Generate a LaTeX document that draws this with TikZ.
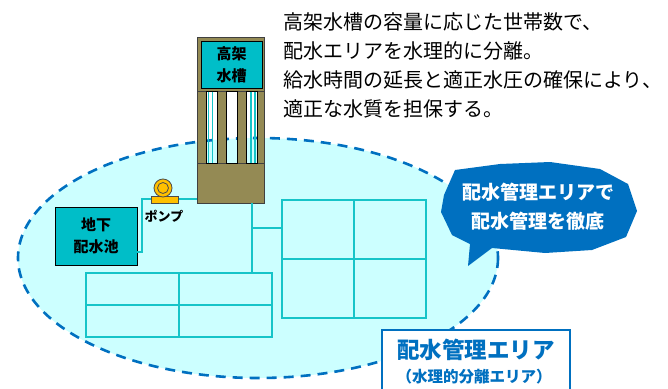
\documentclass[tikz,border=0pt]{standalone}
\usepackage{fontspec}
\setmainfont{Noto Sans CJK JP}
\usepackage{xcolor}
\definecolor{areafill}{RGB}{204,255,255}
\definecolor{areablue}{RGB}{0,112,192}
\definecolor{pipecyan}{RGB}{22,196,200}
\definecolor{tankteal}{RGB}{0,190,200}
\definecolor{towerolive}{RGB}{148,138,84}
\definecolor{pumpgold}{RGB}{255,192,0}
\usepackage{tikz}
\usetikzlibrary{calc}

\begin{document}
\begin{tikzpicture}[x=1pt,y=-1pt,
    pipe/.style={pipecyan,line width=2pt},
    block/.style={draw=pipecyan,line width=2pt,inner sep=0pt},
    tankbox/.style={draw=black,fill=tankteal,line width=1pt,inner sep=0pt,
      align=center,font=\bfseries\fontsize{15}{22}\selectfont},
    olive/.style={fill=towerolive,draw=black!75,line width=0.8pt}]
        \useasboundingbox (0,0) rectangle (668,388);

        % service area
        \fill[areafill] (258,258) ellipse [x radius=240, y radius=120];
        \draw[areablue,line width=2.6pt,dash pattern=on 10pt off 7pt]
          (258,258) ellipse [x radius=240, y radius=120];

        % blocks of dwellings
        \node[block,minimum width=144pt,minimum height=118pt] (blockA) at (354,259) {};
        \draw[block] (blockA.north) -- (blockA.south) (blockA.west) -- (blockA.east);
        \node[block,minimum width=186pt,minimum height=64pt] (blockB) at (179,305) {};
        \draw[block] (blockB.north) -- (blockB.south) (blockB.west) -- (blockB.east);

        % elevated tank
        \node[olive,minimum width=67pt,minimum height=40pt,inner sep=0pt] (tankbase) at (230.5,183) {};
        \coordinate (drop) at (252,203);
        \coordinate (tee) at (252,228);
        \draw[pipe] (drop) -- (drop |- blockB.north);
        \draw[pipe] (tee) -- (tee -| blockA.west);

        \fill[olive] (197,37) rectangle (264,91);
        \foreach \a/\b in {197/206,217/226,237/246,257/264}
          \draw[olive] (\a,91) rectangle (\b,163);
        \foreach \a/\b in {206/217,226/237,246/257}
          \draw[black,line width=0.8pt] (\a,91) rectangle (\b,163);
        \foreach \x in {208.5,212.5,251,255}
          \draw[pipecyan,line width=1.3pt] (\x,91.5) -- (\x,162.5);
        \node[tankbox,minimum width=61pt,minimum height=47pt] (tank) at (231.5,64.5) {高架\\水槽};

        % ground reservoir and pump
        \node[tankbox,minimum width=82pt,minimum height=58pt] (reservoir) at (96,236) {地下\\配水池};
        \coordinate (outlet) at (137,252);
        \coordinate (inlet) at (197,199);
        \draw[pipe] (outlet) -- ++(5,0) |- (inlet);
        \fill[pumpgold,draw=black!70,line width=0.8pt] (151,196) rectangle (178,203);
        \node[circle,fill=pumpgold,draw=black!70,line width=0.8pt,minimum size=18pt,inner sep=0pt] (pump) at (163,188) {};
        \draw[black!70,line width=0.8pt] (pump) circle [radius=5.5];
        \node[font=\bfseries\fontsize{13}{13}\selectfont] (pumpLabel) at (164,216) {ポンプ};

        % speech bubble
        \fill[areablue] (455,170) -- (500,164) -- (550,162) -- (600,169) -- (628,184)
          -- (637,211) -- (626,237) -- (592,250) -- (545,253) -- (492,248) -- (468,266)
          -- (470,244) -- (452,235) -- (441,212) -- (444,195) -- cycle;
        \node[white,align=center,font=\bfseries\fontsize{19}{29}\selectfont] (bubble) at (538,207)
          {配水管理エリアで\\配水管理を徹底};

        % area caption
        \node[draw=areablue,fill=white,line width=2pt,minimum width=188pt,minimum height=70pt] (area) at (476,365) {};
        \node[areablue,font=\bfseries\fontsize{22.5}{22.5}\selectfont] (areaName) at (476,350) {配水管理エリア};
        \node[areablue,font=\bfseries\fontsize{15.5}{15.5}\selectfont] (areaNote) at (474,377) {（水理的分離エリア）};

        \node[anchor=north west,inner sep=0pt,align=left,font=\fontsize{20}{29.3}\selectfont] (note) at (283,12)
          {高架水槽の容量に応じた世帯数で、\\配水エリアを水理的に分離。\\給水時間の延長と適正水圧の確保により、\\適正な水質を担保する。};
\end{tikzpicture}
\end{document}
